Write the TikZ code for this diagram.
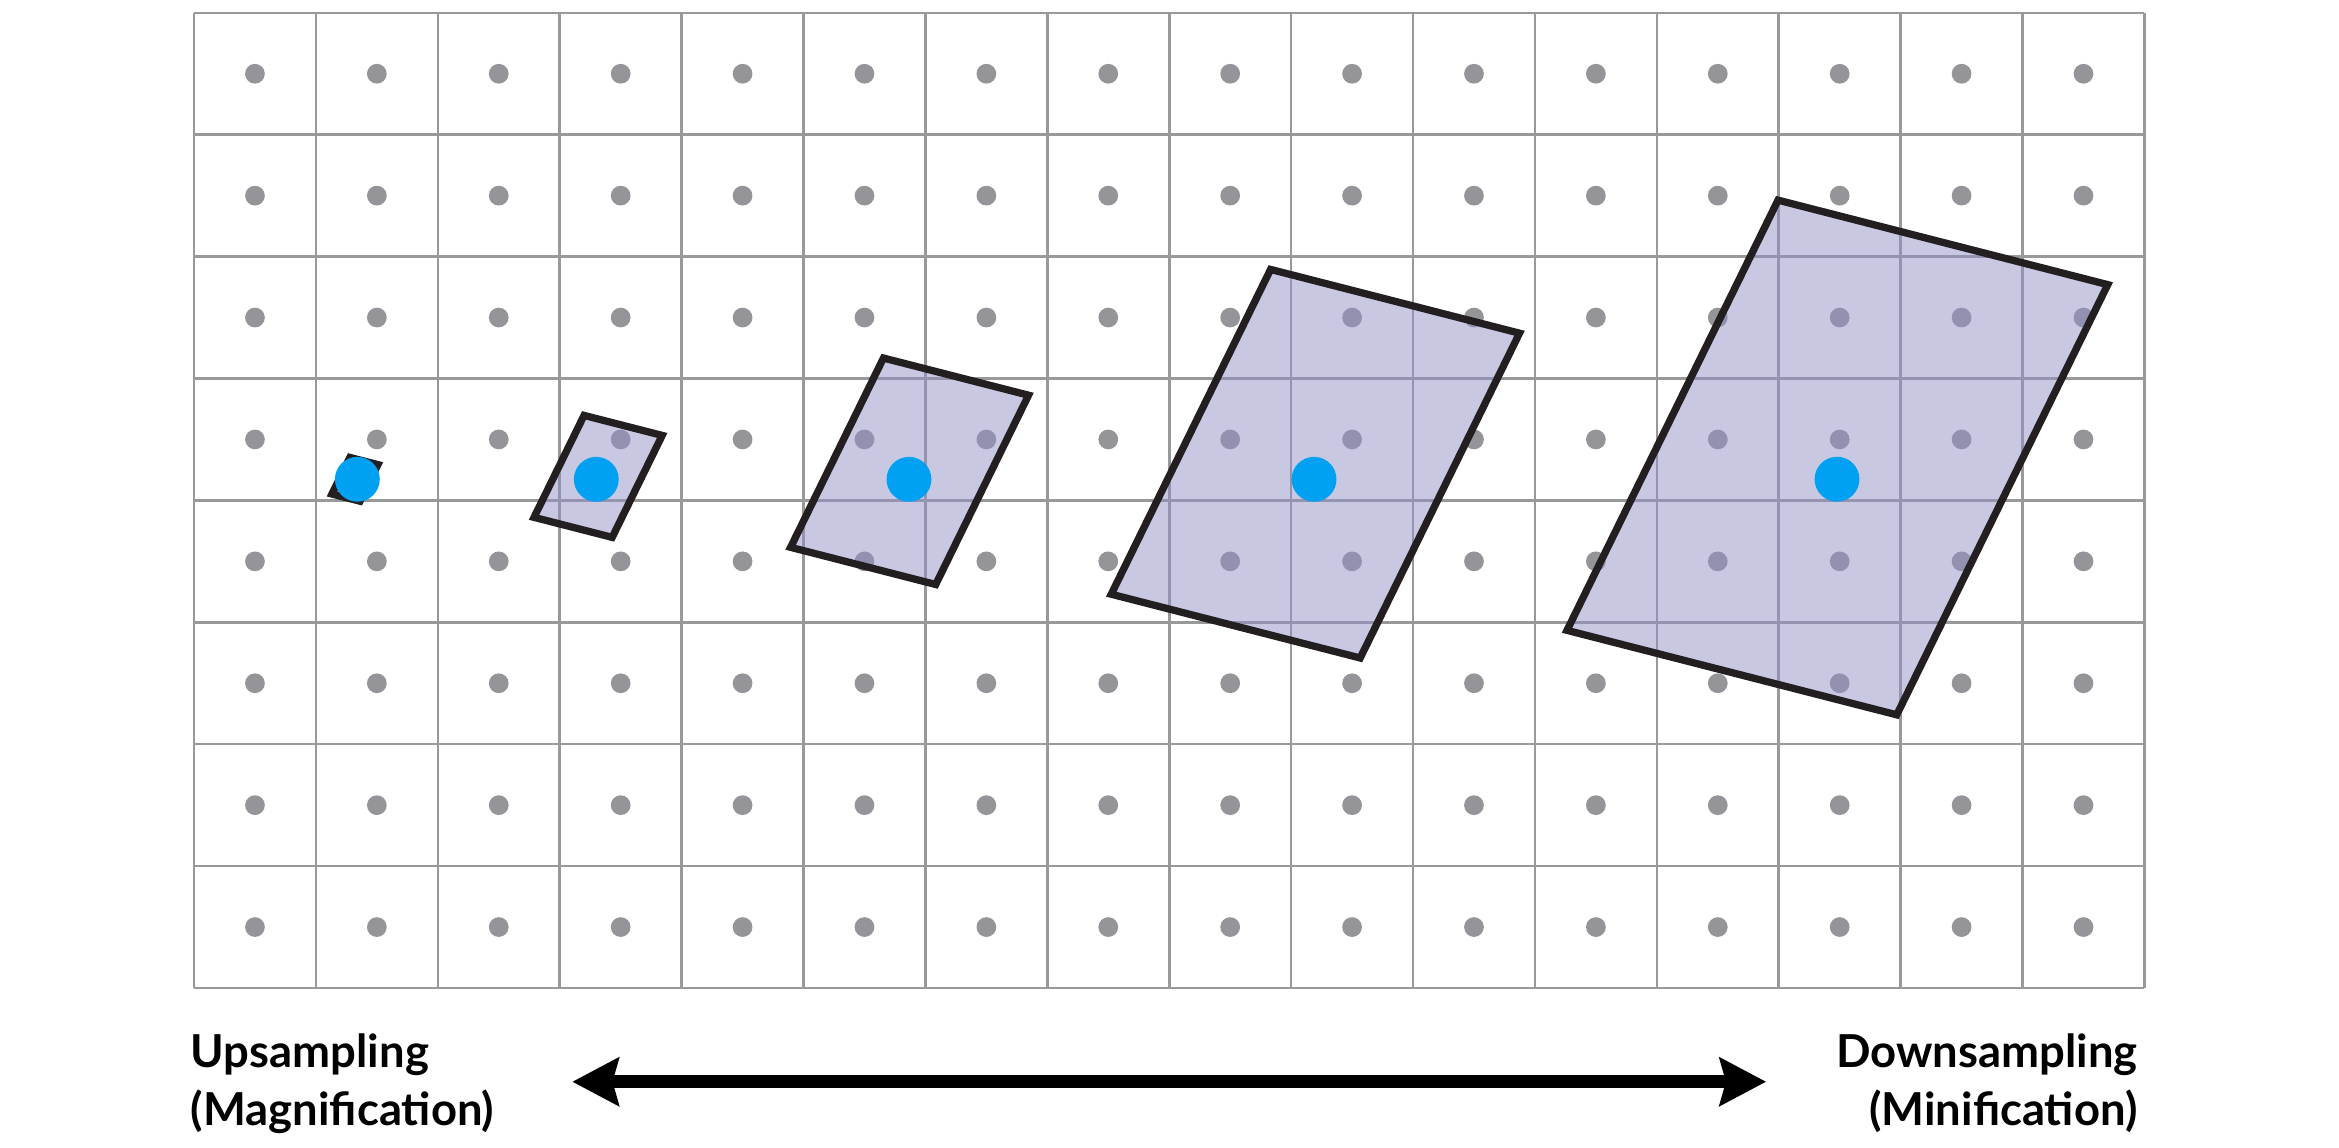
\documentclass[tikz,border=0pt]{standalone}
\usepackage{fontspec}
\setmainfont{Lato}
\usepackage{tikz}
\usetikzlibrary{arrows.meta}
\definecolor{gridgray}{RGB}{153,153,153}
\definecolor{dotgray}{RGB}{149,149,153}
\definecolor{boxfill}{RGB}{145,145,199}
\definecolor{boxline}{RGB}{35,31,32}
\definecolor{sampleblue}{RGB}{0,160,243}
\tikzstyle{gridline}=[draw=gridgray,line width=0.6pt]
\tikzstyle{pixeldot}=[fill=dotgray]
\tikzstyle{footprint}=[draw=boxline,line width=1.7pt,line join=miter,
fill=boxfill,fill opacity=0.5]
\tikzstyle{sample}=[circle,fill=sampleblue,inner sep=0pt,minimum size=3.68mm]
\tikzstyle{caption}=[font=\bfseries\fontsize{10.6}{13.5}\selectfont,inner sep=0pt]
\tikzstyle{arrow}=[line width=3pt,{Stealth[length=3.8mm,width=3.9mm,inset=0.5mm]}-{Stealth[length=3.8mm,width=3.9mm,inset=0.5mm]}]

\begin{document}
\begin{tikzpicture}
        \useasboundingbox (-1.5915,-1.3043) rectangle (17.596,8.105);

        % pixel grid and pixel centres
        \draw [gridline] (0,0) grid (16,8);
        \foreach \x in {0,...,15}
            \foreach \y in {0,...,7}
                \fill [pixeldot] (\x+0.5,\y+0.5) circle (0.081);

        % footprints of one screen pixel in the texture
        \draw [footprint,shift={(1.320,4.173)},scale=0.085] (-0.487,2.111) -- (2.218,1.418) -- (0.487,-2.111) -- (-2.218,-1.418) -- cycle;
        \draw [footprint,shift={(3.315,4.197)},scale=0.237] (-0.487,2.111) -- (2.218,1.418) -- (0.487,-2.111) -- (-2.218,-1.418) -- cycle;
        \draw [footprint,shift={(5.870,4.239)},scale=0.44] (-0.487,2.111) -- (2.218,1.418) -- (0.487,-2.111) -- (-2.218,-1.418) -- cycle;
        \draw [footprint,shift={(9.199,4.301)},scale=0.755] (-0.487,2.111) -- (2.218,1.418) -- (0.487,-2.111) -- (-2.218,-1.418) -- cycle;
        \draw [footprint,shift={(13.481,4.352)},scale=1] (-0.487,2.111) -- (2.218,1.418) -- (0.487,-2.111) -- (-2.218,-1.418) -- cycle;

        \node (s1) [sample] at (1.340,4.173) {};
        \node (s2) [sample] at (3.300,4.173) {};
        \node (s3) [sample] at (5.865,4.173) {};
        \node (s4) [sample] at (9.188,4.173) {};
        \node (s5) [sample] at (13.478,4.174) {};

        \node (upsmp) [caption,anchor=base west,align=left] at (-0.033,-1.13) {Upsampling\\(Magnification)};
        \node (downsmp) [caption,anchor=base east,align=right] at (15.95,-1.13) {Downsampling\\(Minification)};

        \coordinate (arrL) at (3.103,-0.769);
        \coordinate (arrR) at (12.897,-0.769);
        \draw [arrow] (arrL) -- (arrR);

    \end{tikzpicture}
\end{document}
